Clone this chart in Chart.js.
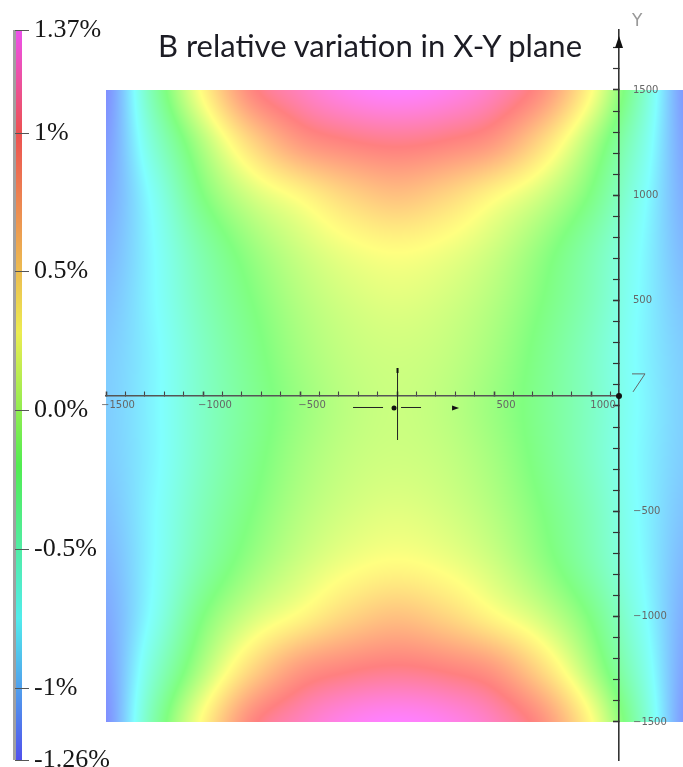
<!DOCTYPE html>
<html>
<head>
<meta charset="utf-8">
<script src="https://cdn.jsdelivr.net/npm/chart.js@4/dist/chart.umd.min.js"></script>
<style>
  html, body { margin: 0; padding: 0; background: #fff; }
  #wrap { position: relative; width: 683px; height: 767px; }
  #title { position: absolute; left: 370px; top: 26px; transform: translateX(-50%); white-space: nowrap;
           font-family: Lato, "Open Sans", sans-serif; font-size: 31px; color: #1c1c24; }
  #ylab { position: absolute; left: 632px; top: 10px; font-family: "DejaVu Sans", sans-serif; font-size: 17px; color: #999; }
</style>
</head>
<body>
<div id="wrap">
  <canvas id="chart" width="683" height="767"></canvas>
  <div id="title">B relative variation in X-Y plane</div>
  <div id="ylab">Y</div>
</div>
<script>
// grid positions (same units as the axes)
const xGrid = [-1500, -1250, -1000, -750, -500, -250, 0, 250, 500, 750, 1000, 1250, 1500];
const yGrid = [1500, 1250, 1000, 750, 500, 250, 0, -250, -500, -750, -1000, -1250, -1500];

// relative variation of B in %, one row per yGrid value
const bVariation = [
  [-1.20, -0.38, 0.32, 0.95, 1.18, 1.32, 1.37, 1.32, 1.18, 0.90, 0.30, -0.45, -1.20],
  [-1.15, -0.55, 0.00, 0.50, 0.85, 0.98, 1.03, 0.98, 0.85, 0.48, -0.02, -0.58, -1.15],
  [-1.10, -0.70, -0.20, 0.12, 0.32, 0.52, 0.63, 0.52, 0.32, 0.10, -0.22, -0.68, -1.10],
  [-1.05, -0.75, -0.38, -0.10, 0.10, 0.24, 0.30, 0.24, 0.10, -0.12, -0.40, -0.74, -1.05],
  [-1.00, -0.76, -0.45, -0.20, 0.00, 0.12, 0.17, 0.12, 0.00, -0.20, -0.45, -0.76, -1.00],
  [-0.96, -0.78, -0.50, -0.26, -0.06, 0.06, 0.10, 0.06, -0.06, -0.26, -0.50, -0.77, -0.96],
  [-0.95, -0.78, -0.51, -0.29, -0.10, 0.03, 0.08, 0.03, -0.10, -0.28, -0.50, -0.76, -0.95],
  [-0.96, -0.78, -0.50, -0.26, -0.06, 0.06, 0.10, 0.06, -0.06, -0.26, -0.50, -0.77, -0.96],
  [-1.00, -0.76, -0.45, -0.20, 0.00, 0.12, 0.17, 0.12, 0.00, -0.20, -0.45, -0.76, -1.00],
  [-1.05, -0.75, -0.38, -0.10, 0.10, 0.24, 0.30, 0.24, 0.10, -0.12, -0.40, -0.74, -1.05],
  [-1.10, -0.70, -0.20, 0.12, 0.32, 0.52, 0.63, 0.52, 0.32, 0.10, -0.22, -0.68, -1.10],
  [-1.15, -0.55, 0.00, 0.50, 0.85, 0.98, 1.03, 0.98, 0.85, 0.48, -0.02, -0.58, -1.15],
  [-1.20, -0.38, 0.32, 0.95, 1.18, 1.32, 1.37, 1.32, 1.18, 0.90, 0.30, -0.45, -1.20]
];

const colorbarTicks = [1.37, 1, 0.5, 0, -0.5, -1, -1.26];
const colorbarLabels = ['1.37%', '1%', '0.5%', '0.0%', '-0.5%', '-1%', '-1.26%'];
const xLabelled = [-1500, -1000, -500, 500, 1000];
const yLabelled = [1500, 1000, 500, -500, -1000, -1500];

// minor ticks every 100
const xTicks = Array.from({length: 27}, (_, i) => -1500 + i * 100);
const yTicks = Array.from({length: 33}, (_, i) => -1500 + i * 100);

// colour map: value -> hue (magenta .. red .. yellow .. green .. cyan .. blue)
const hueStops = [[1.37, 300], [1.0, 360], [0.28, 420], [-0.2, 480], [-0.75, 540], [-1.26, 600]];

function hueFor(v) {
  if (v >= hueStops[0][0]) return hueStops[0][1];
  for (let i = 1; i < hueStops.length; i++) {
    const [v1, h1] = hueStops[i];
    const [v0, h0] = hueStops[i - 1];
    if (v >= v1) return h0 + (h1 - h0) * (v0 - v) / (v0 - v1);
  }
  return hueStops[hueStops.length - 1][1];
}

function hsl(h, s, l) {
  h = ((h % 360) + 360) % 360;
  const c = (1 - Math.abs(2 * l - 1)) * s;
  const x = c * (1 - Math.abs((h / 60) % 2 - 1));
  const m = l - c / 2;
  let r, g, b;
  if (h < 60) [r, g, b] = [c, x, 0];
  else if (h < 120) [r, g, b] = [x, c, 0];
  else if (h < 180) [r, g, b] = [0, c, x];
  else if (h < 240) [r, g, b] = [0, x, c];
  else if (h < 300) [r, g, b] = [x, 0, c];
  else [r, g, b] = [c, 0, x];
  return [Math.round((r + m) * 255), Math.round((g + m) * 255), Math.round((b + m) * 255)];
}

// smooth shading between grid samples (Catmull-Rom)
function cubic(p0, p1, p2, p3, t) {
  return p1 + 0.5 * t * (p2 - p0 + t * (2 * p0 - 5 * p1 + 4 * p2 - p3 + t * (3 * (p1 - p2) + p3 - p0)));
}

function gridValue(xv, yv) {
  const nx = xGrid.length, ny = yGrid.length;
  let fx = (xv - xGrid[0]) / (xGrid[1] - xGrid[0]);
  let fy = (yv - yGrid[0]) / (yGrid[1] - yGrid[0]);
  fx = Math.max(0, Math.min(nx - 1, fx));
  fy = Math.max(0, Math.min(ny - 1, fy));
  const ix = Math.min(Math.floor(fx), nx - 2), iy = Math.min(Math.floor(fy), ny - 2);
  const tx = fx - ix, ty = fy - iy;
  const col = i => Math.max(0, Math.min(nx - 1, i));
  const row = j => bVariation[Math.max(0, Math.min(ny - 1, j))];
  const r = [-1, 0, 1, 2].map(d => {
    const rr = row(iy + d);
    return cubic(rr[col(ix - 1)], rr[ix], rr[ix + 1], rr[col(ix + 2)], tx);
  });
  return cubic(r[0], r[1], r[2], r[3], ty);
}

const noEndPadding = s => { s.paddingTop = 0; s.paddingBottom = 0; };

const heatmap = {
  id: 'heatmap',
  afterLayout(chart) {
    // let the colour bar labels run past the scale box, as in the original
    const c = chart.scales.c;
    c.right = c.left + 90;
  },
  beforeDraw(chart) {
    const { ctx, scales: { x, y, c } } = chart;
    // density plot
    const px0 = Math.round(x.getPixelForValue(xGrid[0]));
    const px1 = Math.min(chart.width, Math.round(x.getPixelForValue(xGrid[xGrid.length - 1])));
    const py0 = Math.round(y.getPixelForValue(yGrid[0]));
    const py1 = Math.round(y.getPixelForValue(yGrid[yGrid.length - 1]));
    const w = px1 - px0, h = py1 - py0;
    const img = ctx.createImageData(w, h);
    for (let j = 0; j < h; j++) {
      const yv = y.getValueForPixel(py0 + j + 0.5);
      for (let i = 0; i < w; i++) {
        const xv = x.getValueForPixel(px0 + i + 0.5);
        const [r, g, b] = hsl(hueFor(gridValue(xv, yv)), 1, 0.75);
        const k = (j * w + i) * 4;
        img.data[k] = r; img.data[k + 1] = g; img.data[k + 2] = b; img.data[k + 3] = 255;
      }
    }
    ctx.putImageData(img, px0, py0);

    // colour bar on the left
    const top = Math.round(c.getPixelForValue(colorbarTicks[0]));
    const bot = Math.round(c.getPixelForValue(colorbarTicks[colorbarTicks.length - 1]));
    ctx.save();
    ctx.fillStyle = '#a0a0a0';
    ctx.fillRect(13, top, 3, bot - top);
    for (let p = top; p < bot; p++) {
      const [r, g, b] = hsl(hueFor(c.getValueForPixel(p + 0.5)), 0.8, 0.62);
      ctx.fillStyle = `rgb(${r},${g},${b})`;
      ctx.fillRect(16, p, 6, 1);
    }
    ctx.strokeStyle = '#555';
    ctx.lineWidth = 1;
    colorbarTicks.forEach(v => {
      const p = Math.round(c.getPixelForValue(v)) + 0.5;
      ctx.beginPath(); ctx.moveTo(15, p); ctx.lineTo(29, p); ctx.stroke();
    });
    ctx.restore();
  },
  afterDraw(chart) {
    const { ctx, scales: { x, y }, chartArea } = chart;
    const ox = x.getPixelForValue(0), oy = y.getPixelForValue(0);
    const ax = chartArea.right, ay = y.getPixelForValue(48);
    ctx.save();
    ctx.strokeStyle = '#222';
    ctx.fillStyle = '#111';
    ctx.lineWidth = 1;
    // arrow on the Y axis
    ctx.beginPath();
    ctx.moveTo(ax, chartArea.top + 6); ctx.lineTo(ax - 4, chartArea.top + 18); ctx.lineTo(ax + 4, chartArea.top + 18);
    ctx.closePath(); ctx.fill();
    // small coordinate marker at the origin
    ctx.beginPath();
    ctx.moveTo(ox + 0.5, oy - 36); ctx.lineTo(ox + 0.5, oy + 34);
    ctx.moveTo(ox - 44, oy + 1.5); ctx.lineTo(ox - 14, oy + 1.5);
    ctx.moveTo(ox + 4, oy + 1.5); ctx.lineTo(ox + 24, oy + 1.5);
    ctx.stroke();
    ctx.fillRect(ox - 0.5, oy - 38, 2, 5);
    ctx.beginPath(); ctx.arc(ox - 3, oy + 2, 2.5, 0, Math.PI * 2); ctx.fill();
    ctx.beginPath();
    ctx.moveTo(ox + 62, oy + 2); ctx.lineTo(ox + 55, oy - 0.5); ctx.lineTo(ox + 55, oy + 4.5);
    ctx.closePath(); ctx.fill();
    // axis crossing dot and Z marker
    ctx.beginPath(); ctx.arc(ax, ay, 3, 0, Math.PI * 2); ctx.fill();
    ctx.strokeStyle = '#666';
    ctx.beginPath();
    ctx.moveTo(ax + 13, ay - 22); ctx.lineTo(ax + 26, ay - 22); ctx.lineTo(ax + 14, ay - 4);
    ctx.stroke();
    ctx.restore();
  }
};

const fmt = v => (v < 0 ? '\u2212' : '') + Math.abs(v);

new Chart(document.getElementById('chart'), {
  type: 'scatter',
  data: {
    datasets: [{
      label: 'B relative variation',
      data: yGrid.flatMap((yv, j) => xGrid.map((xv, i) => ({ x: xv, y: yv, v: bVariation[j][i] }))),
      pointRadius: 0
    }]
  },
  plugins: [heatmap],
  options: {
    responsive: false,
    animation: false,
    events: [],
    layout: { padding: { left: 34, right: 0, top: 30, bottom: 7 } },
    plugins: { legend: { display: false }, tooltip: { enabled: false }, title: { display: false } },
    scales: {
      x: {
        type: 'linear',
        position: { y: 48 },
        min: -1500,
        max: 1144,
        afterBuildTicks: s => { s.ticks = xTicks.map(v => ({ value: v })); },
        afterFit: s => { s.height = 0; s.paddingLeft = 0; s.paddingRight = 0; },
        grid: { drawOnChartArea: false, tickLength: -5, tickColor: '#444',
                tickWidth: ctx => (ctx.tick && ctx.tick.value % 500 === 0 ? 1.6 : 1.1) },
        border: { color: '#555', width: 1.5 },
        ticks: { padding: 9, labelOffset: 12, autoSkip: false, maxRotation: 0, color: '#666',
                 font: { family: 'DejaVu Sans', size: 10 },
                 callback: v => (xLabelled.includes(v) ? fmt(v) : '') }
      },
      y: {
        type: 'linear',
        position: 'right',
        min: -1680.4,
        max: 1784.8,
        afterBuildTicks: s => { s.ticks = yTicks.map(v => ({ value: v })); },
        afterFit: s => { s.width = 64; noEndPadding(s); },
        grid: { drawOnChartArea: false, tickLength: -6, tickColor: '#333',
                tickWidth: ctx => (ctx.tick && ctx.tick.value % 500 === 0 ? 1.6 : 1.2) },
        border: { color: '#333', width: 1.6 },
        ticks: { padding: 20, autoSkip: false, color: '#666',
                 font: { family: 'DejaVu Sans', size: 10 },
                 callback: v => (yLabelled.includes(v) ? fmt(v) : '') }
      },
      c: {
        type: 'linear',
        axis: 'y',
        position: 'left',
        min: colorbarTicks[colorbarTicks.length - 1],
        max: colorbarTicks[0],
        afterBuildTicks: s => { s.ticks = colorbarTicks.map(v => ({ value: v })); },
        afterFit: s => { s.width = 72; noEndPadding(s); },
        grid: { display: false, drawTicks: false },
        border: { display: false },
        ticks: { crossAlign: 'far', autoSkip: false, color: '#161616',
                 font: { family: 'Liberation Serif', size: 26 },
                 callback: (v, i) => colorbarLabels[i] }
      }
    }
  }
});
</script>
</body>
</html>
